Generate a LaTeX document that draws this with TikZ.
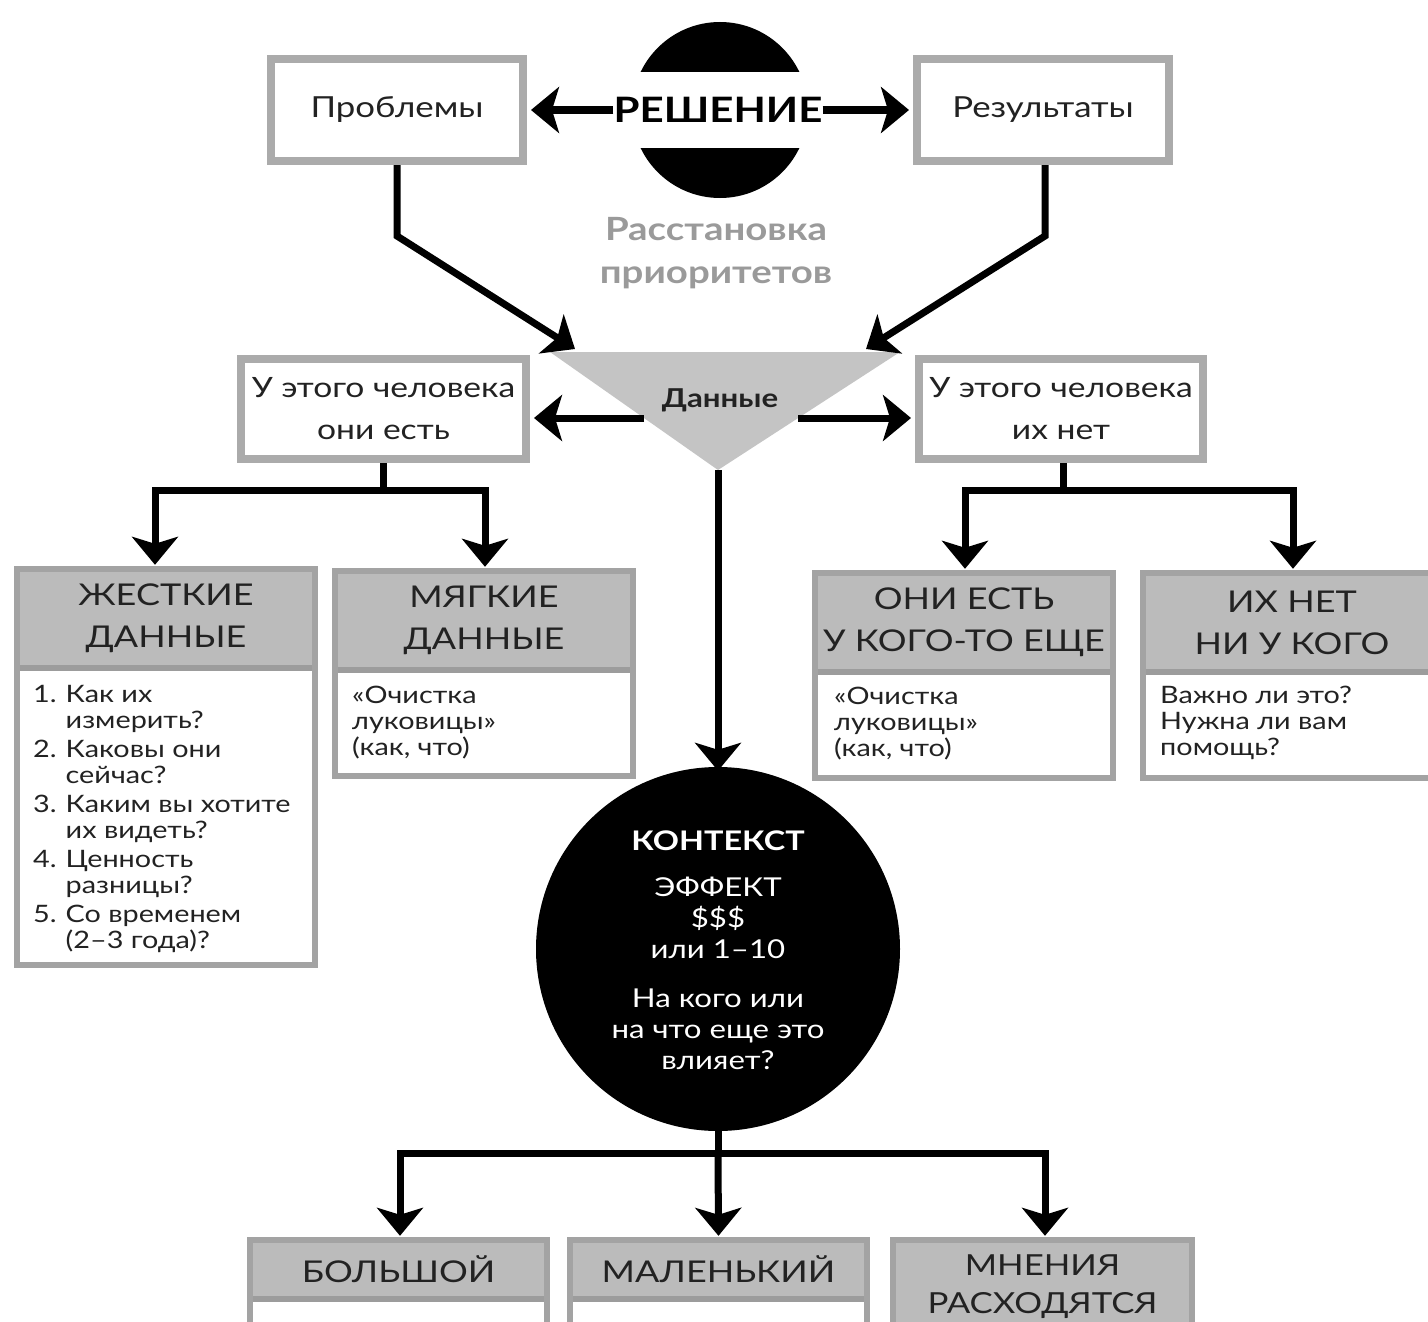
\documentclass[tikz,border=0pt]{standalone}
\usepackage{fontspec}
\setmainfont{Lato}[FakeStretch=1.2]
\usetikzlibrary{arrows.meta,calc}

\definecolor{frameg}{HTML}{ABABAB}
\definecolor{boxg}{HTML}{A3A3A3}
\definecolor{hdrg}{HTML}{BBBBBB}
\definecolor{sepg}{HTML}{9C9C9C}
\definecolor{trig}{HTML}{C4C4C4}
\definecolor{priog}{HTML}{9A9A9A}
\definecolor{ink}{HTML}{222222}

\tikzset{
  arr/.style={line width=7pt, draw=black,
    -{Stealth[length=28pt,width=46pt,inset=7pt]}},
  link/.style={line width=7pt, draw=black},
  topbox/.style={draw=frameg, line width=8pt, fill=white, inner sep=0pt,
    text=ink, align=center},
  hdr/.style={fill=hdrg, inner sep=0pt, text=ink, align=center,
    font=\fontsize{30}{42}\selectfont},
  bodytxt/.style={inner sep=0pt, text=ink, align=left,
    font=\fontsize{24}{26}\selectfont},
  frame/.style={draw=boxg, line width=6pt},
  sepline/.style={draw=sepg, line width=6pt},
}

\begin{document}
\begin{tikzpicture}[x=1pt,y=-1pt]
\useasboundingbox (0,0) rectangle (1428,1322);
\clip (0,0) rectangle (1428,1322);
\fill[white] (0,0) rectangle (1428,1322);

% ---------- top row: problems, solution, results ----------
\node[topbox, minimum width=252pt, minimum height=102pt,
  font=\fontsize{29}{36}\selectfont] (prob) at (397,110) {Проблемы};
\node[topbox, minimum width=252pt, minimum height=102pt,
  font=\fontsize{29}{36}\selectfont] (res) at (1043,110) {Результаты};

\node[circle, fill=black, minimum size=176pt, inner sep=0pt] (solbg) at (720,110) {};
\fill[white] (620,72) rectangle (820,148);
\node[inner sep=0pt, font=\fontsize{35}{40}\selectfont\bfseries] (sol) at (718,110) {РЕШЕНИЕ};

\draw[arr, shorten >=4pt] (sol.west) -- (prob.east);
\draw[arr, shorten >=4pt] (sol.east) -- (res.west);

\node[text=priog, align=center, font=\fontsize{32}{43}\selectfont\bfseries]
  (prio) at (716,253) {Расстановка\\приоритетов};

% ---------- data funnel ----------
\coordinate (triL) at (550,352);
\coordinate (triR) at (900,352);
\coordinate (apex) at (718,470);
\fill[trig] (triL) -- (triR) -- (apex) -- cycle;
\node[inner sep=0pt, text=ink, font=\fontsize{26}{30}\selectfont\bfseries] (data) at (720,400) {Данные};

\coordinate (inL) at (575,349);
\coordinate (inR) at (866,349);
\draw[arr] (prob.south) -- ++(0,71) -- (inL);
\draw[arr] ([xshift=2pt]res.south) -- ++(0,71) -- (inR);

\node[topbox, minimum width=285pt, minimum height=100pt,
  font=\fontsize{28}{42}\selectfont] (has) at (383.5,409) {У этого человека\\они есть};
\node[topbox, minimum width=284pt, minimum height=100pt,
  font=\fontsize{28}{42}\selectfont] (hasnot) at (1061,409) {У этого человека\\их нет};

\coordinate (edgeL) at ($(triL)!0.56!(apex)$);
\coordinate (edgeR) at ($(triR)!0.56!(apex)$);
\draw[arr, shorten >=4pt] (edgeL |- 0,418) -- (has.east |- 0,418);
\draw[arr, shorten >=4pt] (edgeR |- 0,418) -- (hasnot.west |- 0,418);

% ---------- left branch: hard / soft data ----------
\fill[white] (17,569) rectangle (315,965);
\node[hdr, minimum width=298pt, minimum height=99pt] (hardH) at (166,618.5) {ЖЕСТКИЕ\\ДАННЫЕ};
\draw[sepline] (hardH.south west) -- (hardH.south east);
\draw[frame] (hardH.north west) rectangle (315,965);
\node[bodytxt, anchor=north west] (hardB) at (33,684) {%
  \begin{tabular}{@{}l@{\hspace{9pt}}l@{}}
  1. & Как их\\ & измерить?\\[3pt]
  2. & Каковы они\\ & сейчас?\\[3pt]
  3. & Каким вы хотите\\ & их видеть?\\[3pt]
  4. & Ценность\\ & разницы?\\[3pt]
  5. & Со временем\\ & (2–3 года)?
  \end{tabular}};

\fill[white] (335,571) rectangle (633,776);
\node[hdr, minimum width=298pt, minimum height=99pt] (softH) at (484,620.5) {МЯГКИЕ\\ДАННЫЕ};
\draw[sepline] (softH.south west) -- (softH.south east);
\draw[frame] (softH.north west) rectangle (633,776);
\node[bodytxt, anchor=north west] (softB) at (352,686) {«Очистка\\луковицы»\\(как, что)};

\draw[link] (has.south) -- ++(0,27) coordinate (hasJ);
\draw[arr] (hasJ) -| ([xshift=-11pt,yshift=4pt]hardH.north);
\draw[arr] (hasJ) -| ([xshift=1pt,yshift=4pt]softH.north);

% ---------- right branch: someone else / nobody ----------
\fill[white] (815,573) rectangle (1113,778);
\node[hdr, minimum width=298pt, minimum height=99pt] (elseH) at (964,622.5) {ОНИ ЕСТЬ\\У КОГО-ТО ЕЩЕ};
\draw[sepline] (elseH.south west) -- (elseH.south east);
\draw[frame] (elseH.north west) rectangle (1113,778);
\node[bodytxt, anchor=north west] (elseB) at (834,687) {«Очистка\\луковицы»\\(как, что)};

\fill[white] (1143,573) rectangle (1441,778);
\node[hdr, minimum width=298pt, minimum height=99pt] (noneH) at (1292,622.5) {ИХ НЕТ\\НИ У КОГО};
\draw[sepline] (noneH.south west) -- (noneH.south east);
\draw[frame] (noneH.north west) rectangle (1441,778);
\node[bodytxt, anchor=north west] (noneB) at (1160,686) {Важно ли это?\\Нужна ли вам\\помощь?};

\draw[link] ([xshift=2pt]hasnot.south) -- ++(0,27) coordinate (notJ);
\draw[arr] (notJ) -| ([xshift=1pt,yshift=4pt]elseH.north);
\draw[arr] (notJ) -| ([xshift=1pt,yshift=4pt]noneH.north);

% ---------- context ----------
\node[circle, fill=black, minimum size=364pt, inner sep=0pt] (ctx) at (718,949) {};
\node[text=white, align=center, inner sep=0pt, font=\fontsize{26}{31}\selectfont] (ctxT) at (718,950)
  {{\bfseries\fontsize{27}{31}\selectfont КОНТЕКСТ}\\[15pt]
   ЭФФЕКТ\\ \$\$\$\\ или 1–10\\[18pt]
   На кого или\\ на что еще это\\ влияет?};
\draw[arr, shorten >=-4pt] (apex) -- (ctx.north);

% ---------- bottom row ----------
\fill[white] (250,1240) rectangle (547,1400);
\node[hdr, minimum width=297pt, minimum height=59pt] (bigH) at (398.5,1269.5) {БОЛЬШОЙ};
\draw[sepline] (bigH.south west) -- (bigH.south east);
\draw[frame] (bigH.north west) rectangle (547,1400);

\fill[white] (570,1240) rectangle (867,1400);
\node[hdr, minimum width=297pt, minimum height=59pt] (smallH) at (718.5,1269.5) {МАЛЕНЬКИЙ};
\draw[sepline] (smallH.south west) -- (smallH.south east);
\draw[frame] (smallH.north west) rectangle (867,1400);

\node[hdr, minimum width=299pt, minimum height=160pt] (splitH) at (1042.5,1320) {};
\node[inner sep=0pt, text=ink, align=center, font=\fontsize{29}{38}\selectfont]
  (splitT) at (1042.5,1287) {МНЕНИЯ\\РАСХОДЯТСЯ};
\draw[frame] (splitH.north west) rectangle (1192,1400);

\draw[link] (ctx.south) -- ++(0,22) coordinate (ctxJ);
\draw[arr] (ctxJ) -| ([xshift=1.5pt,yshift=4pt]bigH.north);
\draw[arr] (ctxJ) -- ([yshift=4pt]smallH.north);
\draw[arr] (ctxJ) -| ([xshift=2.5pt,yshift=4pt]splitH.north);

\end{tikzpicture}
\end{document}
